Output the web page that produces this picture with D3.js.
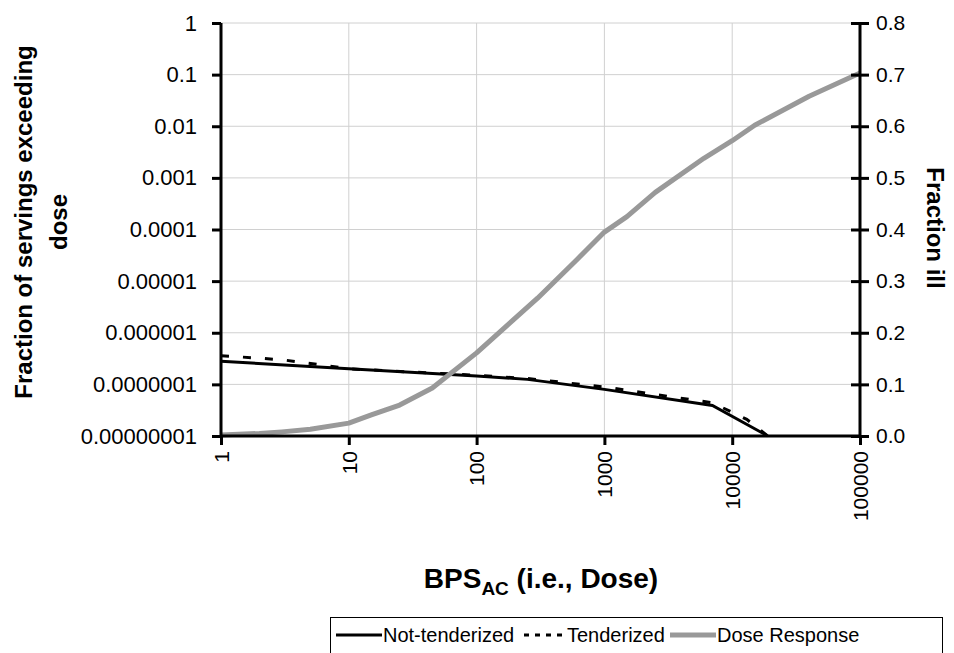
<!DOCTYPE html>
<html>
<head>
<meta charset="utf-8">
<script src="https://cdn.jsdelivr.net/npm/d3@7"></script>
<style>
  body { margin: 0; background: #fff; }
  svg { font-family: "Liberation Sans", Arial, sans-serif; }
  .tick text { font-size: 21px; fill: #000; }
  .axis-title { font-weight: bold; font-size: 24px; }
</style>
</head>
<body>
<div id="chart"></div>
<script>
  var svgWidth = 954;
  var svgHeight = 653;

  var margin = { top: 23, right: 94, bottom: 217, left: 221 };
  var width = svgWidth - margin.left - margin.right;
  var height = svgHeight - margin.top - margin.bottom;

  // data
  var notTendDose = [1, 10, 100, 250, 1000, 7000, 19000];
  var notTendFrac = [2.8e-7, 2.0e-7, 1.45e-7, 1.25e-7, 8.0e-8, 3.9e-8, 1.0e-8];

  var tendDose = [1, 3, 6, 10, 100, 250, 1000, 7000, 13000, 19000];
  var tendFrac = [3.6e-7, 3.0e-7, 2.4e-7, 2.0e-7, 1.5e-7, 1.3e-7, 8.9e-8, 4.4e-8, 2.1e-8, 1.0e-8];

  var drDose = [1, 2, 3, 5, 10, 15, 25, 45, 100, 300, 600, 1000, 1500, 2500, 6000, 10000, 15000, 40000, 100000];
  var drIll = [0.002, 0.005, 0.008, 0.013, 0.025, 0.041, 0.060, 0.093, 0.161, 0.267, 0.340, 0.395, 0.425, 0.472, 0.538, 0.572, 0.602, 0.658, 0.703];

  var xTicks = [1, 10, 100, 1000, 10000, 100000];
  var yLeftTicks = [1, 0.1, 0.01, 0.001, 0.0001, 0.00001, 0.000001, 0.0000001, 0.00000001];
  var yLeftLabels = ["1", "0.1", "0.01", "0.001", "0.0001", "0.00001", "0.000001", "0.0000001", "0.00000001"];
  var yRightTicks = [0, 0.1, 0.2, 0.3, 0.4, 0.5, 0.6, 0.7, 0.8];

  var svg = d3.select("#chart")
    .append("svg")
    .attr("width", svgWidth)
    .attr("height", svgHeight);

  var chartGroup = svg.append("g")
    .attr("transform", `translate(${margin.left}, ${margin.top})`);

  var xScale = d3.scaleLog().domain([1, 100000]).range([0, width]);
  var yLeft = d3.scaleLog().domain([1e-8, 1]).range([height, 0]);
  var yRight = d3.scaleLinear().domain([0, 0.8]).range([height, 0]);

  // gridlines
  chartGroup.append("g").selectAll("line")
    .data(yLeftTicks)
    .enter().append("line")
    .attr("x1", 0).attr("x2", width)
    .attr("y1", d => yLeft(d)).attr("y2", d => yLeft(d))
    .attr("stroke", "#d0d0d0").attr("stroke-width", 1);

  chartGroup.append("g").selectAll("line")
    .data(xTicks)
    .enter().append("line")
    .attr("x1", d => xScale(d)).attr("x2", d => xScale(d))
    .attr("y1", 0).attr("y2", height)
    .attr("stroke", "#d0d0d0").attr("stroke-width", 1);

  // lines
  var lineLeft = d3.line()
    .x(d => xScale(d[0]))
    .y(d => yLeft(d[1]));
  var lineRight = d3.line()
    .x(d => xScale(d[0]))
    .y(d => yRight(d[1]));

  chartGroup.append("path")
    .datum(d3.zip(tendDose, tendFrac))
    .attr("d", lineLeft)
    .attr("fill", "none")
    .attr("stroke", "#000")
    .attr("stroke-width", 3)
    .attr("stroke-dasharray", "8,14");

  chartGroup.append("path")
    .datum(d3.zip(notTendDose, notTendFrac))
    .attr("d", lineLeft)
    .attr("fill", "none")
    .attr("stroke", "#000")
    .attr("stroke-width", 3);

  chartGroup.append("path")
    .datum(d3.zip(drDose, drIll))
    .attr("d", lineRight)
    .attr("fill", "none")
    .attr("stroke", "#999")
    .attr("stroke-width", 5)
    .attr("stroke-linejoin", "round");

  // axes
  var bottomAxis = d3.axisBottom(xScale)
    .tickValues(xTicks)
    .tickFormat(d3.format("d"))
    .tickSize(9);
  var leftAxis = d3.axisLeft(yLeft)
    .tickValues(yLeftTicks)
    .tickFormat((d, i) => yLeftLabels[i])
    .tickSize(9).tickPadding(15);
  var rightAxis = d3.axisRight(yRight)
    .tickValues(yRightTicks)
    .tickFormat(d3.format(".1f"))
    .tickSize(9).tickPadding(7);

  var gx = chartGroup.append("g")
    .attr("transform", `translate(0, ${height})`)
    .call(bottomAxis);
  gx.selectAll(".tick text")
    .attr("transform", "rotate(-90)")
    .attr("text-anchor", "end")
    .attr("x", -15)
    .attr("y", 0)
    .attr("dy", "0.35em");

  var gy = chartGroup.append("g").call(leftAxis);
  gy.selectAll(".tick text").style("font-size", "22px");
  var gr = chartGroup.append("g")
    .attr("transform", `translate(${width}, 0)`)
    .call(rightAxis);
  gr.selectAll(".tick line").attr("x1", -9);

  [gx, gy, gr].forEach(function(g) {
    g.select(".domain").attr("stroke", "#000").attr("stroke-width", 3);
    g.selectAll(".tick line").attr("stroke", "#000").attr("stroke-width", 3);
  });
  gx.select(".domain").attr("d", `M0,0H${width}`);
  gy.select(".domain").attr("d", `M0,0V${height}`);
  gr.select(".domain").attr("d", `M0,0V${height}`);

  // axis titles
  var leftTitle = svg.append("text")
    .attr("class", "axis-title")
    .attr("transform", "translate(24, 222) rotate(-90)")
    .attr("text-anchor", "middle");
  leftTitle.append("tspan").attr("x", 0).attr("dy", "0.35em").text("Fraction of servings exceeding");
  leftTitle.append("tspan").attr("x", 0).attr("dy", "1.45em").text("dose");

  svg.append("text")
    .attr("class", "axis-title")
    .attr("transform", "translate(935, 228) rotate(90)")
    .attr("text-anchor", "middle")
    .attr("dy", "0.35em")
    .text("Fraction ill");

  var xTitle = svg.append("text")
    .attr("class", "axis-title")
    .attr("x", 541)
    .attr("y", 588)
    .attr("text-anchor", "middle")
    .style("font-size", "28px");
  xTitle.append("tspan").text("BPS");
  xTitle.append("tspan").attr("dy", 7).style("font-size", "19px").text("AC");
  xTitle.append("tspan").attr("dy", -7).text(" (i.e., Dose)");

  // legend
  var legend = svg.append("g");
  legend.append("rect")
    .attr("x", 330.5).attr("y", 617.5)
    .attr("width", 612).attr("height", 45)
    .attr("fill", "#fff").attr("stroke", "#000").attr("stroke-width", 1);

  var legendItems = [
    { name: "Not-tenderized", x: 336, color: "#000", w: 3, dash: null, pad: 0 },
    { name: "Tenderized", x: 520, color: "#000", w: 3, dash: "5,6", pad: 4 },
    { name: "Dose Response", x: 670, color: "#999", w: 5, dash: null, pad: 0 }
  ];
  legendItems.forEach(function(it) {
    legend.append("line")
      .attr("x1", it.x + it.pad).attr("x2", it.x + 46 - it.pad)
      .attr("y1", 635).attr("y2", 635)
      .attr("stroke", it.color)
      .attr("stroke-width", it.w)
      .attr("stroke-dasharray", it.dash);
    legend.append("text")
      .attr("x", it.x + 47).attr("y", 635)
      .attr("dy", "0.35em")
      .style("font-size", "20px")
      .text(it.name);
  });
</script>
</body>
</html>
